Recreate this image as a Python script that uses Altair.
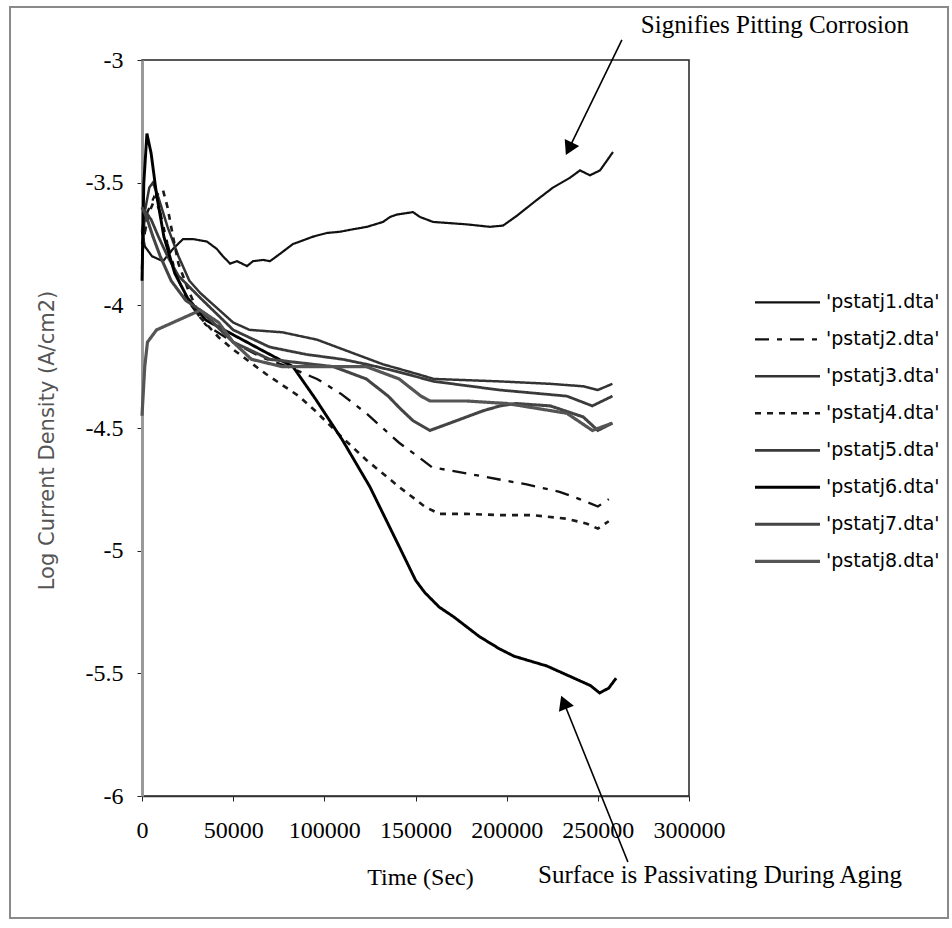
import altair as alt
import pandas as pd

series_names = ["'pstatj1.dta'", "'pstatj2.dta'", "'pstatj3.dta'", "'pstatj4.dta'",
                "'pstatj5.dta'", "'pstatj6.dta'", "'pstatj7.dta'", "'pstatj8.dta'"]

t1 = [0, 1600, 5500, 11500, 17000, 22500, 28000, 35600, 41000, 44400, 48300, 52100, 57600, 60900,
      66400, 70200, 75700, 82800, 86600, 93800, 101500, 108600, 115700, 123400, 132200, 136000,
      139800, 148600, 152500, 159600, 178200, 190800, 198000, 205600, 216600, 225400, 234700,
      240200, 245700, 251200, 255000, 258300]
v1 = [-3.70, -3.76, -3.80, -3.82, -3.77, -3.73, -3.73, -3.74, -3.77, -3.80, -3.83, -3.82, -3.84, -3.82,
      -3.815, -3.82, -3.79, -3.75, -3.74, -3.72, -3.705, -3.70, -3.69, -3.68, -3.66, -3.64,
      -3.63, -3.62, -3.64, -3.66, -3.67, -3.68, -3.675, -3.635, -3.57, -3.52, -3.48,
      -3.45, -3.47, -3.45, -3.41, -3.375]

t2 = [0, 3000, 6500, 10000, 14000, 19000, 25000, 35000, 50000, 65000, 80000, 96000, 109000, 123000,
      141000, 152000, 159000, 178000, 196000, 211000, 229000, 240000, 250000, 256000]
v2 = [-3.80, -3.62, -3.56, -3.62, -3.75, -3.88, -3.98, -4.08, -4.15, -4.21, -4.25, -4.30, -4.36, -4.44,
      -4.56, -4.62, -4.66, -4.685, -4.71, -4.73, -4.76, -4.79, -4.82, -4.79]

t3 = [0, 1500, 4000, 6000, 9000, 14000, 20000, 26000, 32000, 50000, 59000, 77000, 96000, 114000,
      132000, 151000, 160000, 196000, 224000, 242000, 250000, 258000]
v3 = [-3.85, -3.62, -3.52, -3.50, -3.56, -3.68, -3.80, -3.90, -3.95, -4.07, -4.10, -4.11, -4.14, -4.19,
      -4.24, -4.28, -4.30, -4.31, -4.32, -4.33, -4.345, -4.32]

t4 = [0, 4000, 8000, 11500, 14000, 17000, 20000, 25000, 32000, 42000, 50000, 68000, 86000, 95000,
      110000, 123000, 141000, 155000, 163000, 178000, 196000, 214000, 233000, 244000, 250000, 256000]
v4 = [-3.75, -3.62, -3.55, -3.53, -3.60, -3.72, -3.83, -3.93, -4.05, -4.13, -4.18, -4.28, -4.37, -4.43,
      -4.54, -4.63, -4.74, -4.82, -4.85, -4.85, -4.855, -4.855, -4.87, -4.89, -4.91, -4.88]

t5 = [0, 2000, 5000, 9000, 14000, 20000, 32000, 50000, 70000, 90000, 110000, 123000, 140000, 160000,
      196000, 233000, 247000, 258000]
v5 = [-3.70, -3.62, -3.65, -3.72, -3.80, -3.88, -3.97, -4.10, -4.17, -4.20, -4.22, -4.24, -4.27, -4.31,
      -4.345, -4.37, -4.41, -4.37]

t6 = [0, 1000, 2700, 5000, 8000, 12000, 18000, 25000, 35000, 50000, 65000, 82800, 95000, 110000,
      125000, 141500, 150000, 155000, 163000, 171000, 185000, 196000, 204000, 222000, 240000, 246000,
      251000, 256000, 260000]
v6 = [-3.90, -3.50, -3.30, -3.38, -3.55, -3.72, -3.87, -3.97, -4.06, -4.12, -4.18, -4.25, -4.38, -4.55,
      -4.74, -4.99, -5.12, -5.17, -5.23, -5.27, -5.35, -5.40, -5.43, -5.47, -5.53, -5.55,
      -5.58, -5.56, -5.52]

t7 = [0, 2500, 6000, 10000, 16000, 24000, 32000, 50000, 70000, 105000, 123000, 135000, 141500, 148600,
      157900, 168900, 187000, 196300, 205000, 224000, 242000, 250000, 258000]
v7 = [-3.60, -3.64, -3.72, -3.80, -3.90, -3.98, -4.02, -4.15, -4.22, -4.25, -4.30, -4.37, -4.42, -4.47,
      -4.51, -4.48, -4.43, -4.41, -4.40, -4.41, -4.455, -4.51, -4.48]

t8 = [0, 1500, 3000, 8000, 20000, 32000, 42000, 50000, 60000, 77000, 105000, 123000, 141000, 153000,
      158000, 178000, 200000, 233000, 247000, 258000]
v8 = [-4.45, -4.25, -4.15, -4.10, -4.06, -4.02, -4.07, -4.15, -4.22, -4.25, -4.25, -4.25, -4.30, -4.37,
      -4.39, -4.39, -4.40, -4.44, -4.51, -4.48]

all_t = [t1, t2, t3, t4, t5, t6, t7, t8]
all_v = [v1, v2, v3, v4, v5, v6, v7, v8]

x_ticks = [0, 50000, 100000, 150000, 200000, 250000, 300000]
y_ticks = [-3, -3.5, -4, -4.5, -5, -5.5, -6]

note_pitting = "Signifies Pitting Corrosion"
note_passive = "Surface is Passivating During Aging"

rows = []
for name, ts, vs in zip(series_names, all_t, all_v):
    for i, (t, v) in enumerate(zip(ts, vs)):
        rows.append({"series": name, "t": t, "v": v, "i": i})
df = pd.DataFrame(rows)

xscale = alt.Scale(domain=[0, 300000], nice=False, zero=False)
yscale = alt.Scale(domain=[-6, -3], nice=False, zero=False)

dash_range = [[1, 0], [14, 8, 5, 8], [1, 0], [6, 6], [1, 0], [1, 0], [1, 0], [1, 0]]
width_range = [2.2, 3.2, 1.5, 3.0, 1.5, 3.2, 1.5, 1.5]
color_range = ["#111111", "#111111", "#333333", "#1a1a1a", "#3a3a3a", "#000000", "#444444", "#555555"]

legend = alt.Legend(
    title=None, orient="none", legendX=611, legendY=224,
    symbolType="stroke", symbolSize=4225, clipHeight=36.6, rowPadding=0, padding=0,
    labelOffset=4, labelFont="DejaVu Sans", labelFontSize=19, labelColor="black",
)

lines = alt.Chart(df).mark_line(clip=False).encode(
    x=alt.X("t:Q", scale=xscale, axis=alt.Axis(
        values=x_ticks, format="d", grid=False, labelFlush=False,
        labelFont="Liberation Serif", labelFontSize=24, labelColor="black",
        tickSize=5, tickColor="#222", labelPadding=17,
        domainColor="#333", domainWidth=1.5,
        title="Time (Sec)", titleFont="Liberation Serif", titleFontSize=24,
        titleFontWeight="normal", titleColor="black",
        titleX=278, titleY=81, titleAlign="center", titleBaseline="middle")),
    y=alt.Y("v:Q", scale=yscale, axis=alt.Axis(
        values=y_ticks, grid=False, labelFlush=False,
        labelExpr="'-' + format(abs(datum.value), '~g')",
        labelFont="Liberation Serif", labelFontSize=24, labelColor="black",
        tickSize=5, tickColor="#222", labelPadding=14,
        domainColor="#999999", domainWidth=3,
        title="Log Current Density (A/cm2)", titleFont="DejaVu Sans", titleFontSize=21,
        titleFontWeight="normal", titleColor="#555555", titleAngle=270,
        titleX=-95, titleY=380, titleAlign="center", titleBaseline="middle")),
    detail="series:N",
    order="i:Q",
    color=alt.Color("series:N", scale=alt.Scale(domain=series_names, range=color_range), legend=legend),
    strokeDash=alt.StrokeDash("series:N", scale=alt.Scale(domain=series_names, range=dash_range), legend=legend),
    strokeWidth=alt.StrokeWidth("series:N", scale=alt.Scale(domain=series_names, range=width_range), legend=legend),
)

notes = pd.DataFrame([
    {"t": 347100, "v": -2.857, "label": note_pitting},
    {"t": 317000, "v": -6.322, "label": note_passive},
])
note_text = alt.Chart(notes).mark_text(
    font="Liberation Serif", fontSize=25, color="black", align="center", baseline="middle"
).encode(x=alt.X("t:Q", scale=xscale), y=alt.Y("v:Q", scale=yscale), text="label:N")

arrows = pd.DataFrame([
    {"t": 263200, "v": -2.918, "t2": 234700, "v2": -3.353, "ang": 206},
    {"t": 266500, "v": -6.269, "t2": 231800, "v2": -5.627, "ang": 338},
])
arrow_lines = alt.Chart(arrows).mark_rule(color="black", strokeWidth=1.6).encode(
    x=alt.X("t:Q", scale=xscale), y=alt.Y("v:Q", scale=yscale), x2="t2:Q", y2="v2:Q")
arrow_heads = alt.Chart(arrows).mark_point(shape="triangle", filled=True, size=260, color="black", opacity=1).encode(
    x=alt.X("t2:Q", scale=xscale), y=alt.Y("v2:Q", scale=yscale),
    angle=alt.Angle("ang:Q", scale=None))

border = alt.Chart(alt.Data(values=[{"a": 1}])).mark_rect(
    fillOpacity=0, stroke="#8a8a8a", strokeWidth=2
).encode(x=alt.value(-132), x2=alt.value(806), y=alt.value(-53), y2=alt.value(858))

chart = alt.layer(border, lines, arrow_lines, arrow_heads, note_text).properties(
    width=547, height=736,
    padding={"left": 142, "top": 60, "right": 263, "bottom": 132},
    autosize=alt.AutoSizeParams(type="none"),
    background="white",
).configure_view(stroke="#222222", strokeWidth=1.5)

chart.save("out.html", embed_options={"renderer": "svg", "actions": False})
